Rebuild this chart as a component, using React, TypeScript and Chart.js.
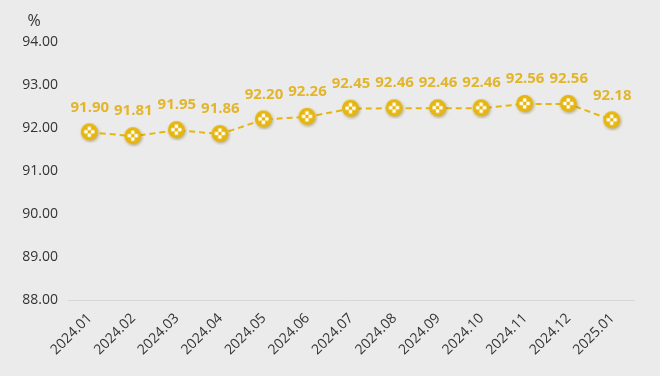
import React, { useEffect, useRef } from "react";
import { Chart, registerables } from "chart.js";

Chart.register(...registerables);

const categories = ["2024.01","2024.02","2024.03","2024.04","2024.05","2024.06","2024.07","2024.08","2024.09","2024.10","2024.11","2024.12","2025.01"];
const values = [91.90, 91.81, 91.95, 91.86, 92.20, 92.26, 92.45, 92.46, 92.46, 92.46, 92.56, 92.56, 92.18];
const yMin = 88;
const yMax = 94;
const unitLabel = "%";

const GOLD = "#e6b60e";
const LABEL_GOLD = "#e2b52b";

function makeMarker(): HTMLCanvasElement {
  const c = document.createElement("canvas");
  c.width = 22;
  c.height = 22;
  const ctx = c.getContext("2d")!;
  ctx.save();
  ctx.shadowColor = "rgba(120,90,0,0.45)";
  ctx.shadowBlur = 3;
  ctx.shadowOffsetX = 1;
  ctx.shadowOffsetY = 1.5;
  ctx.beginPath();
  ctx.arc(10.5, 10.5, 8.5, 0, Math.PI * 2);
  ctx.fillStyle = GOLD;
  ctx.fill();
  ctx.restore();
  ctx.fillStyle = "#ffffff";
  const d = [[0, -3.4], [0, 3.4], [-3.4, 0], [3.4, 0]];
  for (const [dx, dy] of d) {
    ctx.fillRect(10.5 + dx - 1.7, 10.5 + dy - 1.7, 3.4, 3.4);
  }
  return c;
}

export default function App() {
  const ref = useRef<HTMLCanvasElement | null>(null);
  useEffect(() => {
    document.body.style.margin = "0";
    document.body.style.background = "#ebebeb";
    const marker = makeMarker();
    const labelPlugin = {
      id: "valueLabels",
      afterDatasetsDraw(chart: any) {
        const ctx = chart.ctx;
        const meta = chart.getDatasetMeta(0);
        ctx.save();
        ctx.font = "bold 15px 'Open Sans', 'Noto Sans', sans-serif";
        ctx.fillStyle = LABEL_GOLD;
        ctx.textAlign = "center";
        ctx.textBaseline = "middle";
        meta.data.forEach((pt: any, i: number) => {
          ctx.fillText(values[i].toFixed(2), pt.x, pt.y - 25);
        });
        ctx.restore();
      },
      afterDraw(chart: any) {
        const ctx = chart.ctx;
        ctx.save();
        ctx.font = "16px 'Open Sans', 'Noto Sans', sans-serif";
        ctx.fillStyle = "#333333";
        ctx.textAlign = "center";
        ctx.textBaseline = "middle";
        ctx.fillText(unitLabel, 34, 21);
        ctx.restore();
      },
    };
    const chart = new Chart(ref.current!, {
      type: "line",
      data: {
        labels: categories,
        datasets: [
          {
            data: values,
            borderColor: GOLD,
            borderWidth: 2,
            borderDash: [6, 4],
            pointStyle: marker as any,
            pointRadius: 10,
            pointHoverRadius: 10,
            fill: false,
            tension: 0,
          },
        ],
      },
      options: {
        responsive: false,
        animation: false,
        layout: { padding: { top: 42, right: 26, left: 0, bottom: 0 } },
        plugins: { legend: { display: false }, tooltip: { enabled: false } },
        scales: {
          x: {
            offset: true,
            grid: { display: false, drawTicks: false },
            border: { display: true, color: "#d6d6d6", width: 1 },
            ticks: {
              maxRotation: 45,
              minRotation: 45,
              color: "#333333",
              padding: 10,
              font: { size: 14, family: "'Open Sans', 'Noto Sans', sans-serif" },
            },
            afterFit: (s: any) => { s.height = 76; },
          },
          y: {
            min: yMin,
            max: yMax,
            grid: { display: false, drawTicks: false },
            border: { display: false },
            ticks: {
              stepSize: 1,
              color: "#333333",
              padding: 10,
              font: { size: 14, family: "'Open Sans', 'Noto Sans', sans-serif" },
              callback: (v: any) => Number(v).toFixed(2),
            },
            afterFit: (s: any) => { s.width = 68; },
          },
        },
      },
      plugins: [labelPlugin],
    });
    return () => chart.destroy();
  }, []);
  return (
    <div style={{ width: 660, height: 376, background: "#ebebeb" }}>
      <canvas ref={ref} width={660} height={376} style={{ display: "block" }} />
    </div>
  );
}
